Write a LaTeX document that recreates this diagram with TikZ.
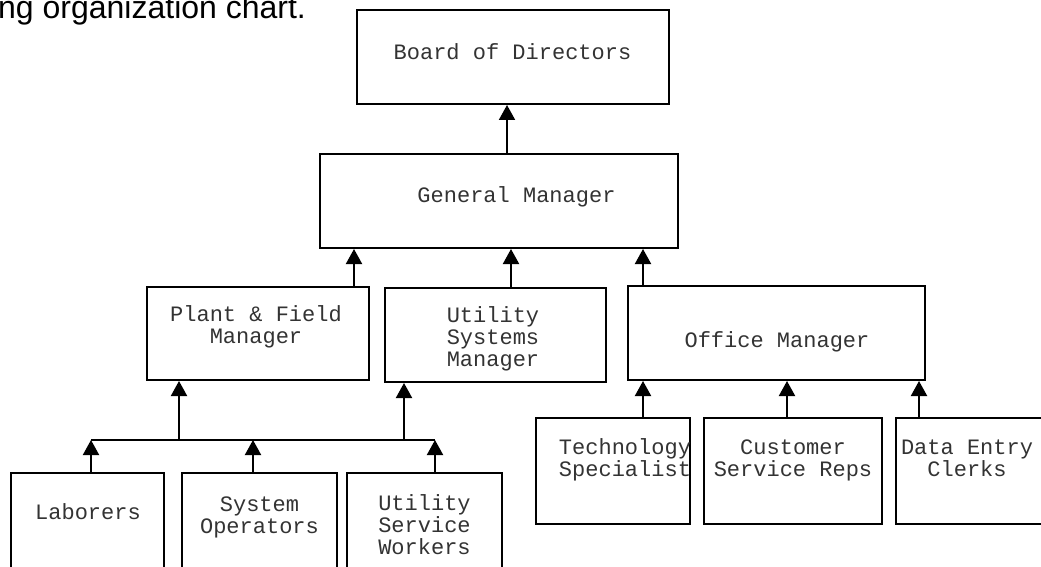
\documentclass[tikz,border=0pt]{standalone}
\usepackage{fontspec}
\setmainfont{Liberation Sans}
\newfontfamily\chartmono{Liberation Mono}
\usetikzlibrary{arrows.meta}

\begin{document}
\begin{tikzpicture}[x=1pt,y=-1pt,
    box/.style={draw,line width=2pt,inner sep=0pt},
    txt/.style={font=\chartmono\fontsize{22}{22}\selectfont,align=center,inner sep=0pt,text depth=0pt,anchor=south,text=black!80},
    arr/.style={line width=2pt,-{Triangle[width=16pt,length=15pt]}}]
    \useasboundingbox (0,0) rectangle (1041,567);
    \node[anchor=base west,inner sep=0pt,font=\fontsize{32}{32}\selectfont] (title) at (-2,18.5) {ng organization chart.};
    % boxes
    \node[box,minimum width=312pt,minimum height=94pt] (board) at (513,57) {};
    \node[box,minimum width=358pt,minimum height=94pt] (gm) at (499,201) {};
    \node[box,minimum width=222pt,minimum height=93pt] (pfm) at (258,333.5) {};
    \node[box,minimum width=221pt,minimum height=94pt] (usm) at (495.5,335) {};
    \node[box,minimum width=297pt,minimum height=94pt] (om) at (776.5,333) {};
    \node[box,minimum width=154pt,minimum height=106pt] (tech) at (613,471) {};
    \node[box,minimum width=178pt,minimum height=106pt] (csr) at (793,471) {};
    \node[box,minimum width=154pt,minimum height=106pt] (dec) at (973,471) {};
    \node[box,minimum width=153pt,minimum height=110pt] (lab) at (87.5,528) {};
    \node[box,minimum width=155pt,minimum height=110pt] (sysop) at (259.5,528) {};
    \node[box,minimum width=155pt,minimum height=110pt] (usw) at (424.5,528) {};
    % labels
    \node[txt] (boardtxt) at (512.5,60) {Board of Directors};
    \node[txt] (gmtxt) at (516.5,203) {General Manager};
    \node[txt] (pfmtxt) at (256,344) {Plant \& Field\\Manager};
    \node[txt] (usmtxt) at (493,367) {Utility\\Systems\\Manager};
    \node[txt] (omtxt) at (777,348) {Office Manager};
    \node[txt] (techtxt) at (625,477) {Technology\\Specialist};
    \node[txt] (csrtxt) at (793,477) {Customer\\Service Reps};
    \node[txt] (dectxt) at (967,477) {Data Entry\\Clerks};
    \node[txt] (labtxt) at (88,520) {Laborers};
    \node[txt] (sysoptxt) at (259.5,534) {System\\Operators};
    \node[txt] (uswtxt) at (424.5,555) {Utility\\Service\\Workers};
    % connectors
    \draw[arr] (507,0 |- gm.north) -- (507,0 |- board.south);
    \draw[arr] (354,0 |- pfm.north) -- (354,0 |- gm.south);
    \draw[arr] (511,0 |- usm.north) -- (511,0 |- gm.south);
    \draw[arr] (643,0 |- om.north) -- (643,0 |- gm.south);
    \coordinate (busL) at (91,440);
    \coordinate (busR) at (435,440);
    \draw[line width=2pt] (busL) -- (busR);
    \draw[arr] (179,0 |- busL) -- (179,0 |- pfm.south);
    \draw[arr] (404,0 |- busL) -- (404,0 |- usm.south);
    \draw[arr] (busL |- lab.north) -- (busL);
    \draw[arr] (253,0 |- sysop.north) -- (253,0 |- busL);
    \draw[arr] (busR |- usw.north) -- (busR);
    \draw[arr] (643,0 |- tech.north) -- (643,0 |- om.south);
    \draw[arr] (787,0 |- csr.north) -- (787,0 |- om.south);
    \draw[arr] (919,0 |- dec.north) -- (919,0 |- om.south);
\end{tikzpicture}
\end{document}
